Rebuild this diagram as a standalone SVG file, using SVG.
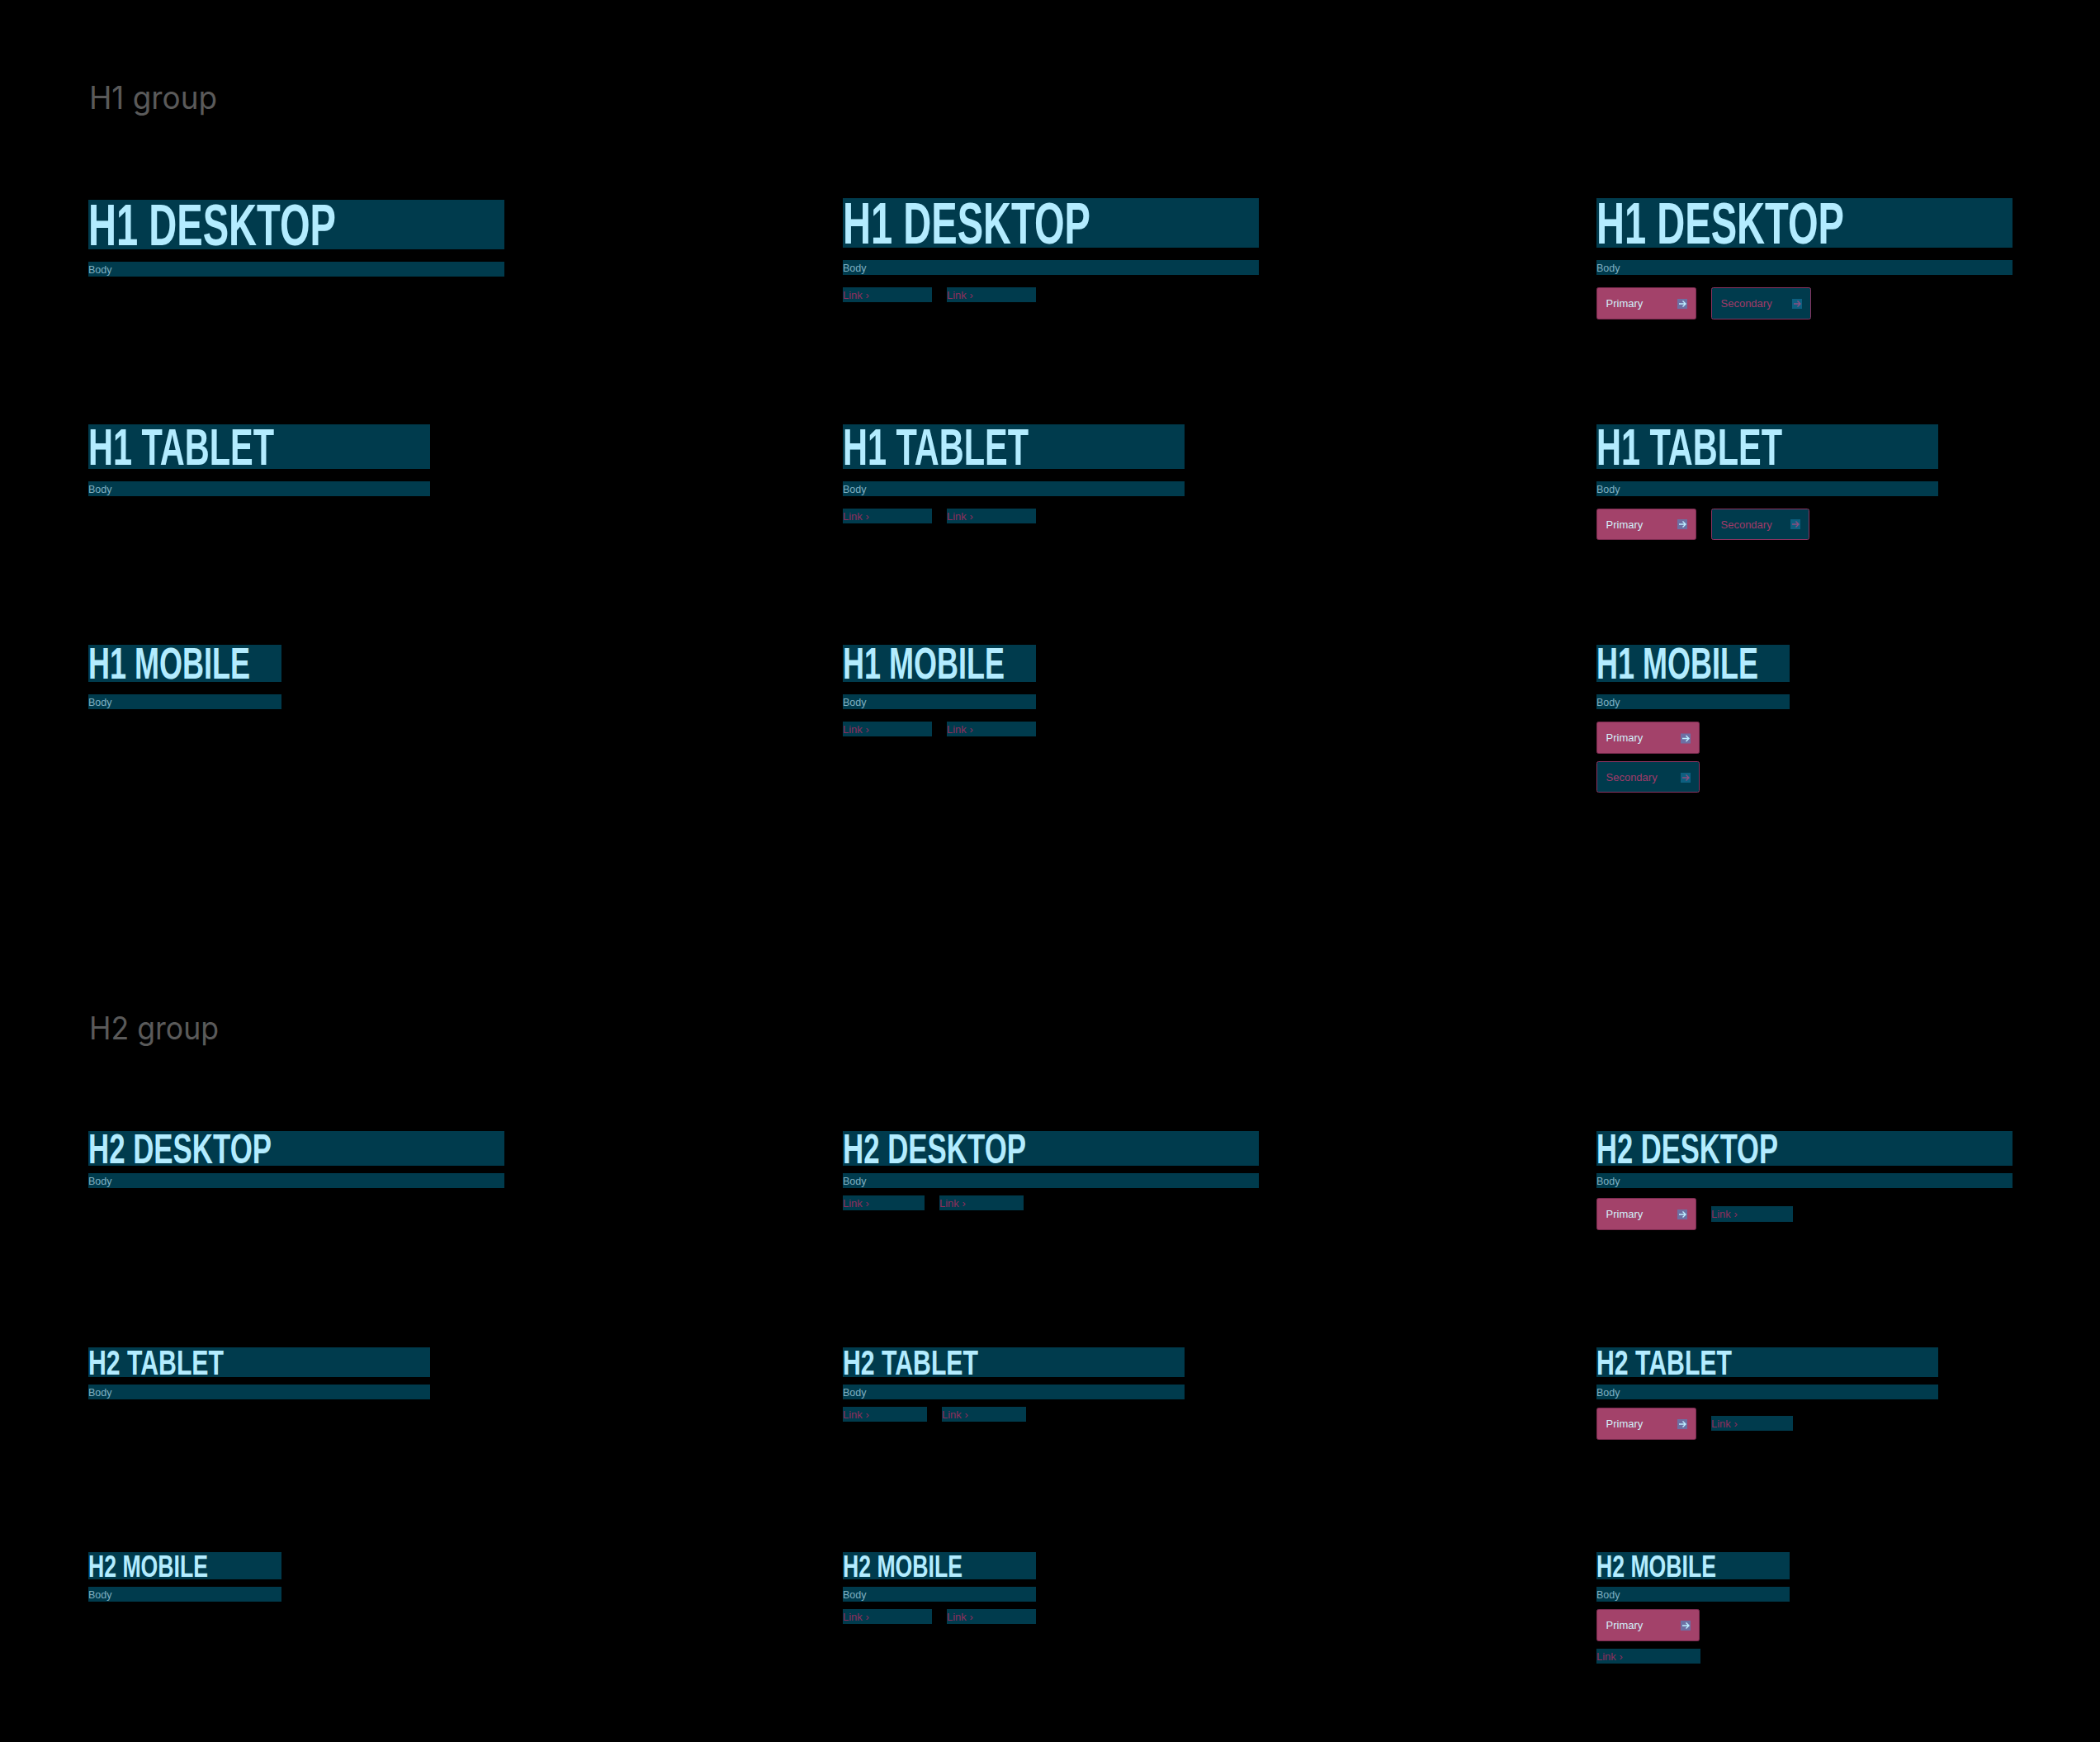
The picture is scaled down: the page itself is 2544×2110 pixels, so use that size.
<svg xmlns="http://www.w3.org/2000/svg" xmlns:xlink="http://www.w3.org/1999/xlink" width="2544" height="2110" viewBox="0 0 2544 2110">
<style>
.bar{fill:#003b4d}
.grp{font-family:Inter,"Liberation Sans",sans-serif;font-size:37.5px;fill:#5a5a5a}
.h{font-family:"Liberation Sans",Arial,sans-serif;font-weight:700;fill:#b3ecff}
.b{font-family:"Liberation Sans",Arial,sans-serif;font-size:12.5px;fill:#7fb0c1}
.l{font-family:"Liberation Sans",Arial,sans-serif;font-size:13px;fill:#8f2e5c}
.pb{fill:#a3426a;stroke:#7a2a4f;stroke-width:1}
.sb{fill:#003b4d;stroke:#8b3461;stroke-width:1}
.pt{font-family:"Liberation Sans",Arial,sans-serif;font-size:13px;fill:#d2effa}
.st{font-family:"Liberation Sans",Arial,sans-serif;font-size:13px;fill:#a13a68}
</style>
<defs>
<g id="ip"><rect width="12" height="12" fill="#6d6fa3"/><path d="M2 6H10M6.5 2.5L10 6L6.5 9.5" fill="none" stroke="#bdeeff" stroke-width="1.4"/></g>
<g id="is"><rect width="12" height="12" fill="#0d5f80"/><path d="M2 6H10M6.5 2.5L10 6L6.5 9.5" fill="none" stroke="#8a4f80" stroke-width="1.4"/></g>
</defs>
<rect width="2544" height="2110" fill="#000"/>

<g id="label-h1"><text class="grp" x="108" y="132" textLength="155" lengthAdjust="spacingAndGlyphs">H1 group</text></g>
<g id="label-h2"><text class="grp" x="108" y="1259" textLength="157" lengthAdjust="spacingAndGlyphs">H2 group</text></g>

<!-- H1 DESKTOP -->
<g id="h1-desktop-1">
<rect class="bar" x="107" y="242" width="504" height="60"/>
<text class="h" x="107" y="297.3" font-size="70.7" textLength="300" lengthAdjust="spacingAndGlyphs">H1 DESKTOP</text>
<rect class="bar" x="107" y="317" width="504" height="18"/>
<text class="b" x="107" y="331">Body</text>
</g>
<g id="h1-desktop-2">
<rect class="bar" x="1021" y="240" width="504" height="60"/>
<text class="h" x="1021" y="295.3" font-size="70.7" textLength="300" lengthAdjust="spacingAndGlyphs">H1 DESKTOP</text>
<rect class="bar" x="1021" y="315" width="504" height="18"/>
<text class="b" x="1021" y="329">Body</text>
<rect class="bar" x="1021" y="348" width="108" height="18"/>
<text class="l" x="1021" y="362">Link ›</text>
<rect class="bar" x="1147" y="348" width="108" height="18"/>
<text class="l" x="1147" y="362">Link ›</text>
</g>
<g id="h1-desktop-3">
<rect class="bar" x="1934" y="240" width="504" height="60"/>
<text class="h" x="1934" y="295.3" font-size="70.7" textLength="300" lengthAdjust="spacingAndGlyphs">H1 DESKTOP</text>
<rect class="bar" x="1934" y="315" width="504" height="18"/>
<text class="b" x="1934" y="329">Body</text>
<rect class="pb" x="1934.5" y="348.5" width="120" height="38" rx="2"/>
<text class="pt" x="1945.5" y="372">Primary</text>
<use xlink:href="#ip" x="2032" y="362"/>
<rect class="sb" x="2073.5" y="348.5" width="120" height="38" rx="2"/>
<text class="st" x="2084.5" y="372">Secondary</text>
<use xlink:href="#is" x="2171" y="362"/>
</g>

<!-- H1 TABLET -->
<g id="h1-tablet-1">
<rect class="bar" x="107" y="514" width="414" height="54"/>
<text class="h" x="107" y="563.3" font-size="62.4" textLength="225" lengthAdjust="spacingAndGlyphs">H1 TABLET</text>
<rect class="bar" x="107" y="583" width="414" height="18"/>
<text class="b" x="107" y="597">Body</text>
</g>
<g id="h1-tablet-2">
<rect class="bar" x="1021" y="514" width="414" height="54"/>
<text class="h" x="1021" y="563.3" font-size="62.4" textLength="225" lengthAdjust="spacingAndGlyphs">H1 TABLET</text>
<rect class="bar" x="1021" y="583" width="414" height="18"/>
<text class="b" x="1021" y="597">Body</text>
<rect class="bar" x="1021" y="616" width="108" height="18"/>
<text class="l" x="1021" y="630">Link ›</text>
<rect class="bar" x="1147" y="616" width="108" height="18"/>
<text class="l" x="1147" y="630">Link ›</text>
</g>
<g id="h1-tablet-3">
<rect class="bar" x="1934" y="514" width="414" height="54"/>
<text class="h" x="1934" y="563.3" font-size="62.4" textLength="225" lengthAdjust="spacingAndGlyphs">H1 TABLET</text>
<rect class="bar" x="1934" y="583" width="414" height="18"/>
<text class="b" x="1934" y="597">Body</text>
<rect class="pb" x="1934.5" y="616.5" width="120" height="37" rx="2"/>
<text class="pt" x="1945.5" y="639.5">Primary</text>
<use xlink:href="#ip" x="2032" y="629"/>
<rect class="sb" x="2073.5" y="616.5" width="118" height="37" rx="2"/>
<text class="st" x="2084.5" y="639.5">Secondary</text>
<use xlink:href="#is" x="2169" y="629"/>
</g>

<!-- H1 MOBILE -->
<g id="h1-mobile-1">
<rect class="bar" x="107" y="781" width="234" height="45"/>
<text class="h" x="107" y="822.3" font-size="53" textLength="196" lengthAdjust="spacingAndGlyphs">H1 MOBILE</text>
<rect class="bar" x="107" y="841" width="234" height="18"/>
<text class="b" x="107" y="855">Body</text>
</g>
<g id="h1-mobile-2">
<rect class="bar" x="1021" y="781" width="234" height="45"/>
<text class="h" x="1021" y="822.3" font-size="53" textLength="196" lengthAdjust="spacingAndGlyphs">H1 MOBILE</text>
<rect class="bar" x="1021" y="841" width="234" height="18"/>
<text class="b" x="1021" y="855">Body</text>
<rect class="bar" x="1021" y="874" width="108" height="18"/>
<text class="l" x="1021" y="888">Link ›</text>
<rect class="bar" x="1147" y="874" width="108" height="18"/>
<text class="l" x="1147" y="888">Link ›</text>
</g>
<g id="h1-mobile-3">
<rect class="bar" x="1934" y="781" width="234" height="45"/>
<text class="h" x="1934" y="822.3" font-size="53" textLength="196" lengthAdjust="spacingAndGlyphs">H1 MOBILE</text>
<rect class="bar" x="1934" y="841" width="234" height="18"/>
<text class="b" x="1934" y="855">Body</text>
<rect class="pb" x="1934.5" y="874.5" width="124" height="38" rx="2"/>
<text class="pt" x="1945.5" y="898">Primary</text>
<use xlink:href="#ip" x="2036" y="888.5"/>
<rect class="sb" x="1934.5" y="922.5" width="124" height="37" rx="2"/>
<text class="st" x="1945.5" y="945.5">Secondary</text>
<use xlink:href="#is" x="2036" y="936"/>
</g>

<!-- H2 DESKTOP -->
<g id="h2-desktop-1">
<rect class="bar" x="107" y="1370" width="504" height="42"/>
<text class="h" x="107" y="1409.3" font-size="50.3" textLength="222" lengthAdjust="spacingAndGlyphs">H2 DESKTOP</text>
<rect class="bar" x="107" y="1421" width="504" height="18"/>
<text class="b" x="107" y="1435">Body</text>
</g>
<g id="h2-desktop-2">
<rect class="bar" x="1021" y="1370" width="504" height="42"/>
<text class="h" x="1021" y="1409.3" font-size="50.3" textLength="222" lengthAdjust="spacingAndGlyphs">H2 DESKTOP</text>
<rect class="bar" x="1021" y="1421" width="504" height="18"/>
<text class="b" x="1021" y="1435">Body</text>
<rect class="bar" x="1021" y="1448" width="99" height="18"/>
<text class="l" x="1021" y="1462">Link ›</text>
<rect class="bar" x="1138" y="1448" width="102" height="18"/>
<text class="l" x="1138" y="1462">Link ›</text>
</g>
<g id="h2-desktop-3">
<rect class="bar" x="1934" y="1370" width="504" height="42"/>
<text class="h" x="1934" y="1409.3" font-size="50.3" textLength="220" lengthAdjust="spacingAndGlyphs">H2 DESKTOP</text>
<rect class="bar" x="1934" y="1421" width="504" height="18"/>
<text class="b" x="1934" y="1435">Body</text>
<rect class="pb" x="1934.5" y="1451.5" width="120" height="38" rx="2"/>
<text class="pt" x="1945.5" y="1475">Primary</text>
<use xlink:href="#ip" x="2032" y="1465"/>
<rect class="bar" x="2073" y="1461" width="99" height="19"/>
<text class="l" x="2073" y="1475">Link ›</text>
</g>

<!-- H2 TABLET -->
<g id="h2-tablet-1">
<rect class="bar" x="107" y="1632" width="414" height="36"/>
<text class="h" x="107" y="1665" font-size="42.3" textLength="164" lengthAdjust="spacingAndGlyphs">H2 TABLET</text>
<rect class="bar" x="107" y="1677" width="414" height="18"/>
<text class="b" x="107" y="1691">Body</text>
</g>
<g id="h2-tablet-2">
<rect class="bar" x="1021" y="1632" width="414" height="36"/>
<text class="h" x="1021" y="1665" font-size="42.3" textLength="164" lengthAdjust="spacingAndGlyphs">H2 TABLET</text>
<rect class="bar" x="1021" y="1677" width="414" height="18"/>
<text class="b" x="1021" y="1691">Body</text>
<rect class="bar" x="1021" y="1704" width="102" height="18"/>
<text class="l" x="1021" y="1718">Link ›</text>
<rect class="bar" x="1141" y="1704" width="102" height="18"/>
<text class="l" x="1141" y="1718">Link ›</text>
</g>
<g id="h2-tablet-3">
<rect class="bar" x="1934" y="1632" width="414" height="36"/>
<text class="h" x="1934" y="1665" font-size="42.3" textLength="164" lengthAdjust="spacingAndGlyphs">H2 TABLET</text>
<rect class="bar" x="1934" y="1677" width="414" height="18"/>
<text class="b" x="1934" y="1691">Body</text>
<rect class="pb" x="1934.5" y="1705.5" width="120" height="38" rx="2"/>
<text class="pt" x="1945.5" y="1729">Primary</text>
<use xlink:href="#ip" x="2032" y="1719"/>
<rect class="bar" x="2073" y="1715" width="99" height="18"/>
<text class="l" x="2073" y="1729">Link ›</text>
</g>

<!-- H2 MOBILE -->
<g id="h2-mobile-1">
<rect class="bar" x="107" y="1880" width="234" height="33"/>
<text class="h" x="107" y="1910" font-size="36.3" textLength="145" lengthAdjust="spacingAndGlyphs">H2 MOBILE</text>
<rect class="bar" x="107" y="1922" width="234" height="18"/>
<text class="b" x="107" y="1936">Body</text>
</g>
<g id="h2-mobile-2">
<rect class="bar" x="1021" y="1880" width="234" height="33"/>
<text class="h" x="1021" y="1910" font-size="36.3" textLength="145" lengthAdjust="spacingAndGlyphs">H2 MOBILE</text>
<rect class="bar" x="1021" y="1922" width="234" height="18"/>
<text class="b" x="1021" y="1936">Body</text>
<rect class="bar" x="1021" y="1949" width="108" height="18"/>
<text class="l" x="1021" y="1963">Link ›</text>
<rect class="bar" x="1147" y="1949" width="108" height="18"/>
<text class="l" x="1147" y="1963">Link ›</text>
</g>
<g id="h2-mobile-3">
<rect class="bar" x="1934" y="1880" width="234" height="33"/>
<text class="h" x="1934" y="1910" font-size="36.3" textLength="145" lengthAdjust="spacingAndGlyphs">H2 MOBILE</text>
<rect class="bar" x="1934" y="1922" width="234" height="18"/>
<text class="b" x="1934" y="1936">Body</text>
<rect class="pb" x="1934.5" y="1949.5" width="124" height="38" rx="2"/>
<text class="pt" x="1945.5" y="1973">Primary</text>
<use xlink:href="#ip" x="2036" y="1963"/>
<rect class="bar" x="1934" y="1997" width="126" height="18"/>
<text class="l" x="1934" y="2011">Link ›</text>
</g>

<g id="connectors"/>
</svg>
